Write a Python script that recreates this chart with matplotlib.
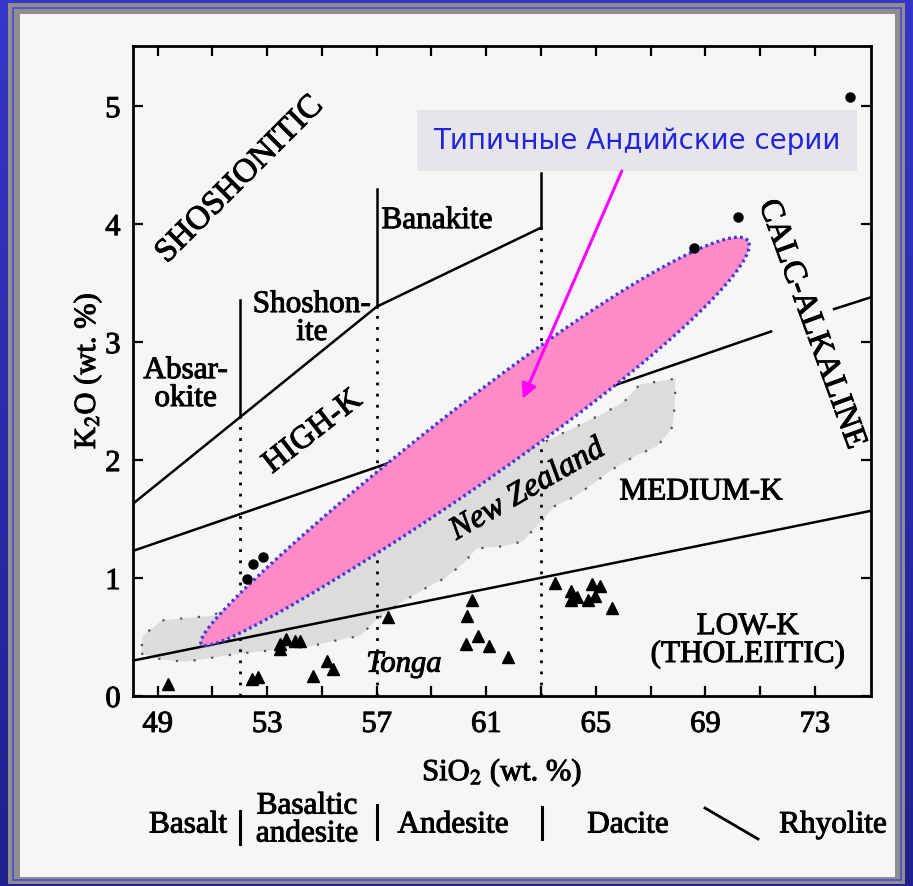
import numpy as np
import matplotlib.pyplot as plt
import matplotlib.patheffects as pe
from matplotlib.colors import LinearSegmentedColormap
from matplotlib.patches import Polygon, Rectangle
from matplotlib.lines import Line2D

plt.rcParams['font.family'] = ['Liberation Serif', 'DejaVu Serif']
plt.rcParams['mathtext.fontset'] = 'stix'

# ---- data ----
x_ticks = [49, 51, 53, 55, 57, 59, 61, 63, 65, 67, 69, 71, 73]
x_labels = ['49', '', '53', '', '57', '', '61', '', '65', '', '69', '', '73']
y_ticks = [0, 1, 2, 3, 4, 5]

# field boundaries (SiO2, K2O)
lowk_x = [48.1, 75.05]
lowk_y = [0.30, 1.57]
highk_x = [48.1, 71.4]
highk_y = [1.23, 3.09]
highk2_x = [73.7, 75.05]
highk2_y = [3.28, 3.38]
shosh_x = [48.1, 57.0, 63.0]
shosh_y = [1.63, 3.30, 3.97]
vert_x = [52.0, 57.0, 63.0]
vert_bottom = [2.37, 3.30, 3.97]
vert_top = [3.36, 4.30, 4.43]

# New Zealand field outline
nz_x = [48.4, 49.15, 50.0, 52.0, 54.55, 55.5, 56.4, 57.0, 57.95, 58.83, 59.5, 60.14,
        60.65, 61.6, 62.33, 63.5, 64.23, 64.9, 65.6, 66.4, 67.26, 67.8, 67.9, 67.9,
        66.6, 66.06, 65.4, 60.0, 55.0, 51.0, 50.0, 49.15, 48.45]
nz_y = [0.36, 0.31, 0.29, 0.36, 0.42, 0.47, 0.51, 0.65, 0.80, 0.92, 1.00, 1.12,
        1.25, 1.27, 1.31, 1.61, 1.69, 1.80, 1.92, 2.03, 2.12, 2.28, 2.50, 2.69,
        2.64, 2.50, 2.41, 1.80, 1.20, 0.68, 0.66, 0.64, 0.51]

# Tonga (triangles)
tonga_x = [49.37, 52.43, 52.65, 53.46, 53.7, 54.0, 54.2, 53.46, 54.66, 55.17, 55.4, 57.4,
           60.47, 60.3, 60.7, 60.25, 61.1, 61.8, 63.5, 64.1, 64.1, 64.3, 64.7, 64.85,
           65.15, 64.96, 65.6]
tonga_y = [0.10, 0.14, 0.16, 0.44, 0.48, 0.47, 0.47, 0.40, 0.17, 0.30, 0.23, 0.67,
           0.81, 0.68, 0.51, 0.44, 0.42, 0.33, 0.96, 0.89, 0.81, 0.84, 0.81, 0.95,
           0.93, 0.85, 0.75]

# dots (circles)
dot_x = [52.25, 52.47, 52.84, 68.6, 70.2, 74.3]
dot_y = [0.99, 1.12, 1.18, 3.80, 4.06, 5.08]

# Andean series field: tips of the elongated egg shape
andes_tips_x = [50.6, 70.55]
andes_tips_y = [0.44, 3.86]
andes_width = 0.112   # half width / half length
andes_egg = 0.22

# rock names along SiO2
rock_names = ['Basalt', 'Basaltic\nandesite', 'Andesite', 'Dacite', 'Rhyolite']

W, H = 913, 887
fig = plt.figure(figsize=(W / 100, H / 100), dpi=100)
heavy = [pe.withStroke(linewidth=0.7, foreground='black')]

# slide-like background
bg = fig.add_axes([0, 0, 1, 1])
bg.axis('off')
cm = LinearSegmentedColormap.from_list('bl', ['#3636c8', '#20208c'])
bg.imshow(np.linspace(0, 1, 256).reshape(-1, 1), cmap=cm, aspect='auto',
          extent=[0, 1, 0, 1])
bg.set_xlim(0, 1)
bg.set_ylim(0, 1)
bg.add_patch(Rectangle((8 / W, 1 - 885 / H), 897 / W, 881 / H, fc='#8e8e8e', ec='none',
                       transform=bg.transAxes))
bg.add_patch(Rectangle((12.5 / W, 1 - 881 / H), 888 / W, 872 / H, fc='none', ec='#4a4ad0',
                       lw=1.2, transform=bg.transAxes))
bg.add_patch(Rectangle((20 / W, 1 - 878 / H), 875 / W, 863 / H, fc='#f6f6f6', ec='none',
                       transform=bg.transAxes))

ax = fig.add_axes([133 / W, 1 - 697 / H, 738 / W, 650 / H])
ax.set_facecolor('none')
ax.set_xlim(48.1, 75.05)
ax.set_ylim(0, 5.51)
ax.set_xticks(x_ticks)
ax.set_xticklabels(x_labels)
ax.set_yticks(y_ticks)
ax.tick_params(direction='in', length=7, width=1.6, labelsize=22, top=True, right=True)
ax.tick_params(axis='x', pad=10)
ax.tick_params(axis='y', pad=9)
for lab in ax.get_xticklabels() + ax.get_yticklabels():
    lab.set_path_effects(heavy)
for s in ax.spines.values():
    s.set_linewidth(2)

# New Zealand field
ax.add_patch(Polygon(np.column_stack([nz_x, nz_y]), closed=True, fc='#dcdcdc',
                     ec='#555555', lw=1.6, ls=(0, (1, 7)), zorder=1))

# boundaries
ax.plot(lowk_x, lowk_y, color='black', lw=1.8, zorder=2)
ax.plot(highk_x, highk_y, color='black', lw=1.8, zorder=2)
ax.plot(highk2_x, highk2_y, color='black', lw=1.8, zorder=2)
ax.plot(shosh_x, shosh_y, color='black', lw=1.8, zorder=2)
for vx, vb, vt in zip(vert_x, vert_bottom, vert_top):
    ax.plot([vx, vx], [vb, vt], color='black', lw=1.8, zorder=2)
    ax.plot([vx, vx], [0, vb], color='black', lw=2, ls=(0, (1, 3)), zorder=2)

# Andean field, built in display space so it keeps its shape
p0 = ax.transData.transform((andes_tips_x[0], andes_tips_y[0]))
p1 = ax.transData.transform((andes_tips_x[1], andes_tips_y[1]))
c = (p0 + p1) / 2
u = (p1 - p0) / 2
a = np.hypot(*u)
v = np.array([-u[1], u[0]]) / a
t = np.linspace(0, 2 * np.pi, 300)
b = andes_width * a * (1 + andes_egg * np.cos(t))
pts = c + np.outer(np.cos(t), u) + np.outer(b * np.sin(t), v)
pts = ax.transData.inverted().transform(pts)
ax.add_patch(Polygon(pts, closed=True, fc='#ff8ac8', ec='none', zorder=3))
ax.add_patch(Polygon(pts, closed=True, fc='none', ec='#3a3ad8', lw=2.4,
                     ls=(0, (0.8, 1.0)), zorder=4))

ax.plot(tonga_x, tonga_y, '^', color='black', ms=9, zorder=5)
ax.plot(dot_x, dot_y, 'o', color='black', ms=6.5, zorder=5)

# field labels
kw = dict(ha='center', va='center', path_effects=heavy)
ax.text(52.0, 4.38, 'SHOSHONITIC', rotation=45, fontsize=24, **kw)
ax.text(59.2, 4.03, 'Banakite', fontsize=22.5, **kw)
ax.text(54.63, 3.20, 'Shoshon-\nite', fontsize=22.5, linespacing=0.95, **kw)
ax.text(50.02, 2.64, 'Absar-\nokite', fontsize=22.5, linespacing=0.95, **kw)
ax.text(54.66, 2.24, 'HIGH-K', rotation=38, fontsize=23.5, **kw)
ax.text(72.89, 3.15, 'CALC-ALKALINE', rotation=-70, fontsize=23.5, **kw)
ax.text(62.5, 1.75, 'New Zealand', rotation=30, fontsize=23.5, style='italic',
        zorder=6, **kw)
ax.text(68.84, 1.73, 'MEDIUM-K', fontsize=22.5, **kw)
ax.text(57.99, 0.27, 'Tonga', fontsize=22, style='italic', **kw)
ax.text(70.55, 0.47, 'LOW-K\n(THOLEIITIC)', fontsize=22.5, linespacing=0.95, **kw)

# annotation
ax.text(66.5, 4.71, 'Типичные Андийские серии', fontsize=20, color='#2424dc',
        family=['DejaVu Sans'], ha='center', va='center', zorder=6,
        bbox=dict(boxstyle='square,pad=0.6', fc='#e6e6ea', ec='none'))
ax.annotate('', xy=(62.33, 2.52), xytext=(65.95, 4.45), zorder=6,
            arrowprops=dict(arrowstyle='-|>', color='#ff00ff', lw=2.2,
                            mutation_scale=22, shrinkA=0, shrinkB=0))

ax.set_xlabel('SiO$_2$ (wt. %)', fontsize=22, labelpad=12, path_effects=heavy)
ax.set_ylabel('K$_2$O (wt. %)', fontsize=22, labelpad=1, path_effects=heavy)

# rock names under the axis
fs = 22.5
name_x = [188, 307, 453, 628, 833]
name_y = [826, 821, 826, 826, 826]
for nm, nx, ny in zip(rock_names, name_x, name_y):
    fig.text(nx / W, 1 - ny / H, nm, fontsize=fs, ha='center', va='center',
             linespacing=0.95, path_effects=heavy)
for bx, by0, by1 in [(240, 812, 845), (377, 806, 840), (542, 808, 840)]:
    fig.add_artist(Line2D([bx / W, bx / W], [1 - by0 / H, 1 - by1 / H], color='black',
                          lw=2.2, transform=fig.transFigure))
fig.add_artist(Line2D([705 / W, 758 / W], [1 - 809 / H, 1 - 840 / H], color='black',
                      lw=2, transform=fig.transFigure))

fig.savefig('out.png', dpi=100)
